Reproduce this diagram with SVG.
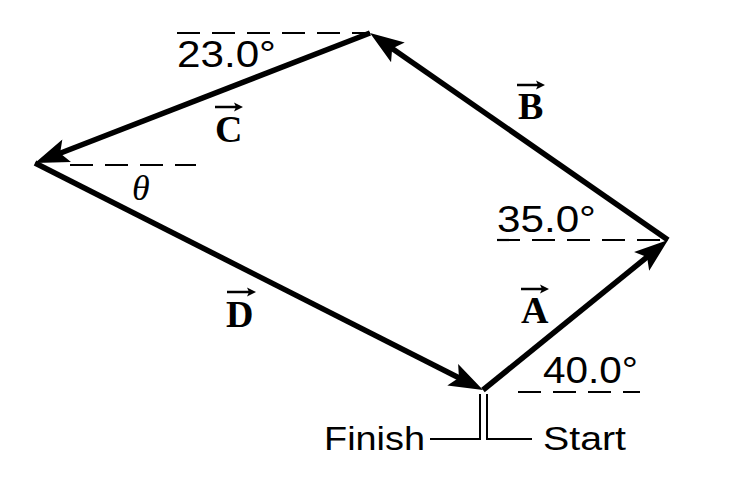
<svg xmlns="http://www.w3.org/2000/svg" width="744" height="502" viewBox="0 0 744 502">
<style>
.vec{stroke:#000;stroke-width:5.5;fill:none;marker-end:url(#head)}
.dash{stroke:#000;stroke-width:2.2;stroke-dasharray:23 12;fill:none}
.thin{stroke:#000;stroke-width:2;fill:none}
.ang{font-family:"Liberation Sans",Arial,sans-serif;font-size:36px;fill:#000}
.lbl{font-family:"Liberation Sans",Arial,sans-serif;font-size:34px;fill:#000}
.vl{font-family:"Liberation Serif","Times New Roman",serif;font-size:38px;font-weight:bold;fill:#000}
.ov{stroke:#000;stroke-width:2.5;fill:none;marker-end:url(#small)}
.th{font-family:"Liberation Serif","Times New Roman",serif;font-size:36px;font-style:italic;fill:#000}
</style>
<defs>
<marker id="head" markerUnits="userSpaceOnUse" viewBox="-15 -12 40 24" refX="0" refY="0" markerWidth="40" markerHeight="24" orient="auto" overflow="visible">
<path d="M20,0 L-14,-12 L-7,0 L-14,12 Z" fill="#000"/>
</marker>
<marker id="small" markerUnits="userSpaceOnUse" viewBox="-6 -5 12 10" refX="0" refY="0" markerWidth="12" markerHeight="10" orient="auto" overflow="visible">
<path d="M5,0 L-4,-4.5 L-2,0 L-4,4.5 Z" fill="#000"/>
</marker>
</defs>
<rect width="744" height="502" fill="#fff"/>
<g id="reference-lines">
<line class="dash" x1="177" y1="33" x2="370" y2="33"/>
<line class="dash" x1="70" y1="165" x2="196" y2="165"/>
<line class="dash" x1="497" y1="240" x2="668" y2="240"/>
<line class="dash" x1="518" y1="392" x2="640" y2="392"/>
</g>
<g id="connectors">
<line id="vecA" class="vec" x1="483" y1="390" x2="652.5" y2="252.6"/>
<line id="vecB" class="vec" x1="668" y1="240" x2="386.4" y2="44.4"/>
<line id="vecC" class="vec" x1="370" y1="33" x2="53.6" y2="155.8"/>
<line id="vecD" class="vec" x1="35" y1="163" x2="465.2" y2="381"/>
</g>
<g id="angle-labels">
<text class="ang" x="177" y="67" textLength="99" lengthAdjust="spacingAndGlyphs">23.0°</text>
<text class="ang" x="497" y="232" textLength="99" lengthAdjust="spacingAndGlyphs">35.0°</text>
<text class="ang" x="543" y="383" textLength="95" lengthAdjust="spacingAndGlyphs">40.0°</text>
<text class="th" x="132" y="200">θ</text>
</g>
<g id="label-A">
<line class="ov" x1="521" y1="289" x2="544" y2="289"/>
<text class="vl" x="521" y="323">A</text>
</g>
<g id="label-B">
<line class="ov" x1="517" y1="85" x2="540" y2="85"/>
<text class="vl" x="518" y="119">B</text>
</g>
<g id="label-C">
<line class="ov" x1="215" y1="107" x2="238" y2="107"/>
<text class="vl" x="215" y="142">C</text>
</g>
<g id="label-D">
<line class="ov" x1="227" y1="292" x2="251" y2="292"/>
<text class="vl" x="226" y="327">D</text>
</g>
<g id="start-finish">
<polyline class="thin" points="480,394 480,439 430,439"/>
<polyline class="thin" points="487,394 487,439 532,439"/>
<text class="lbl" x="324" y="450" textLength="101" lengthAdjust="spacingAndGlyphs">Finish</text>
<text class="lbl" x="543" y="450" textLength="83" lengthAdjust="spacingAndGlyphs">Start</text>
</g>
</svg>
